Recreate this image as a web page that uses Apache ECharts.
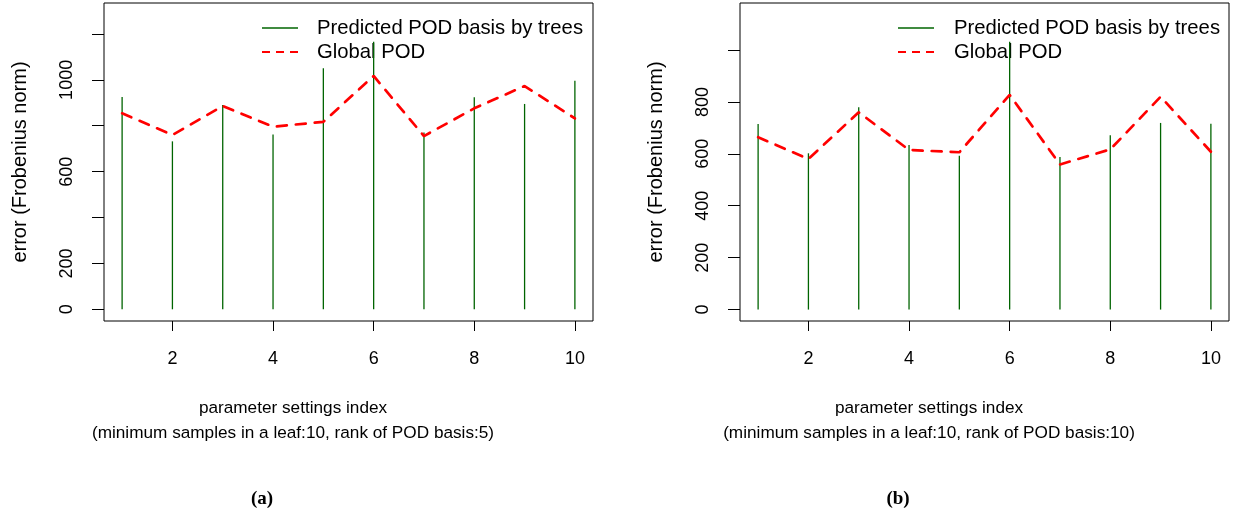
<!DOCTYPE html>
<html>
<head>
<meta charset="utf-8">
<script src="https://cdn.jsdelivr.net/npm/echarts@6/dist/echarts.min.js"></script>
<style>
  html, body { margin: 0; padding: 0; background: #ffffff; }
  #chart { width: 1237px; height: 516px; }
</style>
</head>
<body>
<div id="chart"></div>
<script>
// Parameter settings index (x positions)
const settingIndex = [1, 2, 3, 4, 5, 6, 7, 8, 9, 10];

// Panel (a): rank of POD basis 5
const treesA  = [925, 732, 890, 762, 1051, 1166, 771, 924, 895, 996];
const globalA = [854, 760, 886, 796, 817, 1017, 755, 876, 973, 832];

// Panel (b): rank of POD basis 10
const treesB  = [715, 602, 779, 634, 593, 1032, 588, 672, 719, 716];
const globalB = [664, 580, 760, 615, 606, 827, 559, 617, 820, 608];

// Tick values and labels
const xTicks = [2, 4, 6, 8, 10];
const yTicksA = [0, 200, 400, 600, 800, 1000, 1200];
const yLabelsA = [0, 200, 600, 1000];
const yTicksB = [0, 200, 400, 600, 800, 1000];
const yLabelsB = [0, 200, 400, 600, 800];

const seriesNames = ['Predicted POD basis by trees', 'Global POD'];
const yTitle = 'error (Frobenius norm)';
const xTitle = 'parameter settings index';
const xSubA = '(minimum samples in a leaf:10, rank of POD basis:5)';
const xSubB = '(minimum samples in a leaf:10, rank of POD basis:10)';
const panelTags = ['(a)', '(b)'];

const FONT = '"Liberation Sans", Arial, Helvetica, sans-serif';
const GREEN = '#006400';
const RED = '#ff0000';

function pairs(xs, ys) { return xs.map((x, i) => [x, ys[i]]); }

function xAxisFor(gridIndex) {
  return {
    type: 'value', gridIndex, min: 0.64, max: 10.36,
    axisLine: { show: false, onZero: false },
    splitLine: { show: false },
    axisTick: { show: true, length: 10, lineStyle: { color: '#000', width: 1 }, customValues: xTicks },
    axisLabel: { show: true, margin: 29, fontSize: 18, color: '#000', fontFamily: FONT,
                 customValues: xTicks, formatter: v => String(v) }
  };
}

function yAxisFor(gridIndex, min, max, ticks, labels) {
  return {
    type: 'value', gridIndex, min, max,
    name: yTitle, nameLocation: 'middle', nameRotate: 90, nameGap: 74,
    nameTextStyle: { fontSize: 20, color: '#000', fontFamily: FONT },
    axisLine: { show: false },
    splitLine: { show: false },
    axisTick: { show: true, length: 12, lineStyle: { color: '#000', width: 1 }, customValues: ticks },
    axisLabel: { show: true, rotate: 90, margin: 28, fontSize: 18, color: '#000', fontFamily: FONT,
                 customValues: labels, formatter: v => String(v) }
  };
}

function panelSeries(idx, trees, glob) {
  return [
    {
      name: seriesNames[0], type: 'bar', xAxisIndex: idx, yAxisIndex: idx,
      data: pairs(settingIndex, trees), barWidth: 1.3,
      itemStyle: { color: GREEN }, silent: true, z: 2
    },
    {
      name: seriesNames[1], type: 'line', xAxisIndex: idx, yAxisIndex: idx,
      data: pairs(settingIndex, glob), symbol: 'none',
      lineStyle: { color: RED, width: 2.7, type: [10, 9], cap: 'round' }, silent: true, z: 3
    }
  ];
}

function legendGraphics(lineX0, textX) {
  return [
    { type: 'line', shape: { x1: lineX0, y1: 28, x2: lineX0 + 36, y2: 28 },
      style: { stroke: GREEN, lineWidth: 1.3 } },
    { type: 'line', shape: { x1: lineX0, y1: 52, x2: lineX0 + 36, y2: 52 },
      style: { stroke: RED, lineWidth: 2, lineDash: [8, 6] } },
    { type: 'text', x: textX, y: 28,
      style: { text: seriesNames[0], font: '20.3px ' + FONT, fill: '#000', verticalAlign: 'middle' } },
    { type: 'text', x: textX, y: 52,
      style: { text: seriesNames[1], font: '20.3px ' + FONT, fill: '#000', verticalAlign: 'middle' } }
  ];
}

function xTitleGraphics(cx, sub) {
  return [
    { type: 'text', x: cx, y: 408,
      style: { text: xTitle, font: '17.2px ' + FONT, fill: '#000', align: 'center', verticalAlign: 'middle' } },
    { type: 'text', x: cx, y: 433,
      style: { text: sub, font: '17.2px ' + FONT, fill: '#000', align: 'center', verticalAlign: 'middle' } }
  ];
}

function tagGraphic(cx, tag) {
  return { type: 'text', x: cx, y: 499,
    style: { text: tag, font: 'bold 19px "Liberation Serif", "Times New Roman", serif', fill: '#000', align: 'center', verticalAlign: 'middle' } };
}

const chart = echarts.init(document.getElementById('chart'), null, { renderer: 'canvas' });

chart.setOption({
  animation: false,
  backgroundColor: '#ffffff',
  grid: [
    { left: 104, top: 3, width: 489, height: 318, show: true, borderColor: '#000', borderWidth: 1, backgroundColor: 'transparent' },
    { left: 740, top: 3, width: 489, height: 318, show: true, borderColor: '#000', borderWidth: 1, backgroundColor: 'transparent' }
  ],
  xAxis: [xAxisFor(0), xAxisFor(1)],
  yAxis: [
    yAxisFor(0, -51, 1335, yTicksA, yLabelsA),
    yAxisFor(1, -44, 1181, yTicksB, yLabelsB)
  ],
  series: [].concat(panelSeries(0, treesA, globalA), panelSeries(1, treesB, globalB)),
  graphic: [].concat(
    legendGraphics(262, 317),
    legendGraphics(898, 954),
    xTitleGraphics(293, xSubA),
    xTitleGraphics(929, xSubB),
    [tagGraphic(262, panelTags[0]), tagGraphic(898, panelTags[1])]
  )
});
</script>
</body>
</html>
